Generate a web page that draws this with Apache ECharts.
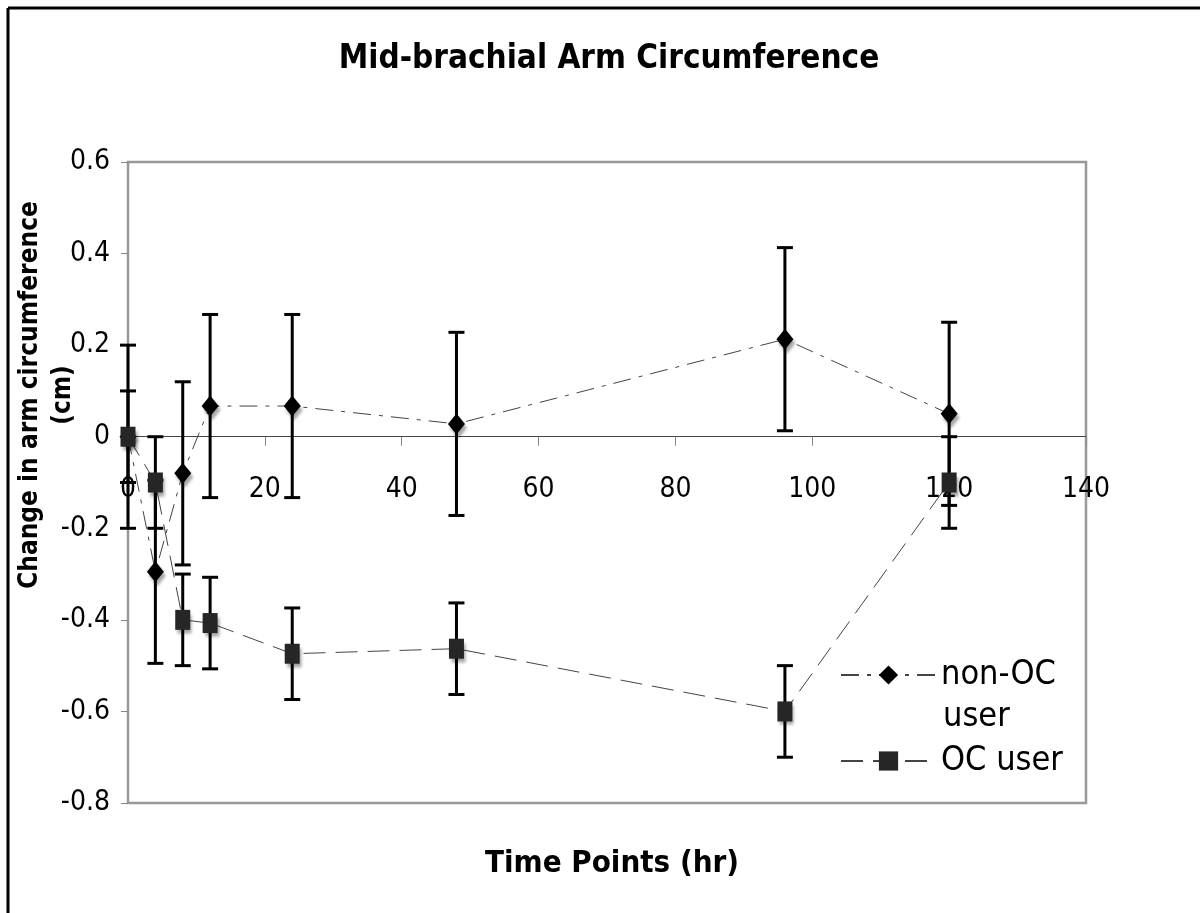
<!DOCTYPE html>
<html>
<head>
<meta charset="utf-8">
<title>Mid-brachial Arm Circumference</title>
<script src="https://cdn.jsdelivr.net/npm/echarts@6/dist/echarts.min.js"></script>
<style>
  html, body { margin: 0; padding: 0; background: #fff; }
  #chart { width: 1200px; height: 913px; }
</style>
</head>
<body>
<div id="chart"></div>
<script>
// time points (hr)
var timePoints = [0, 4, 8, 12, 24, 48, 96, 120];
// change in arm circumference (cm), mean and error
var nonOcMean = [0, -0.295, -0.08, 0.067, 0.067, 0.028, 0.213, 0.05];
var nonOcErr = [0.2, 0.2, 0.2, 0.2, 0.2, 0.2, 0.2, 0.2];
var ocMean = [0, -0.1, -0.4, -0.407, -0.474, -0.463, -0.6, -0.1];
var ocErr = [0.1, 0.1, 0.1, 0.1, 0.1, 0.1, 0.1, 0.1];
var seriesNames = ['non-OC user', 'OC user'];
// axis ranges [min, max, step]
var xRange = [0, 140, 20];
var yRange = [-0.8, 0.6, 0.2];

var FONT = "'DejaVu Sans Condensed', 'DejaVu Sans', sans-serif";

// plot box
var GRID = { left: 128, right: 114, top: 162, bottom: 110 };
var plotH = 913 - GRID.top - GRID.bottom;
// x axis sits on y = 0 (labels go with it)
var xAxisOffset = -plotH * (0 - yRange[0]) / (yRange[1] - yRange[0]);

function points(mean) {
  return timePoints.map(function (t, i) { return [t, mean[i]]; });
}
function bars(mean, err) {
  return timePoints.map(function (t, i) { return [t, mean[i] - err[i], mean[i] + err[i]]; });
}

// vertical error bar with caps
function renderErrorBar(params, api) {
  var x = api.value(0);
  var top = api.coord([x, api.value(2)]);
  var bot = api.coord([x, api.value(1)]);
  var hw = 8;
  var st = { stroke: '#000', lineWidth: 3 };
  return {
    type: 'group',
    children: [
      { type: 'line', shape: { x1: top[0], y1: top[1], x2: bot[0], y2: bot[1] }, style: st },
      { type: 'line', shape: { x1: top[0] - hw, y1: top[1], x2: top[0] + hw, y2: top[1] }, style: st },
      { type: 'line', shape: { x1: bot[0] - hw, y1: bot[1], x2: bot[0] + hw, y2: bot[1] }, style: st }
    ]
  };
}

var shadow = { shadowColor: 'rgba(0,0,0,0.35)', shadowBlur: 3, shadowOffsetX: 2, shadowOffsetY: 4 };

var chart = echarts.init(document.getElementById('chart'));
chart.setOption({
  backgroundColor: '#fff',
  animation: false,
  title: [
    {
      text: 'Mid-brachial Arm Circumference',
      left: 604,
      textAlign: 'center',
      top: 38,
      textStyle: { fontFamily: FONT, fontWeight: 'bold', fontSize: 33, color: '#000' }
    },
    {
      text: 'Time Points (hr)',
      left: 607,
      textAlign: 'center',
      top: 843,
      textStyle: { fontFamily: FONT, fontWeight: 'bold', fontSize: 31, color: '#000' }
    }
  ],
  graphic: [
    { type: 'line', shape: { x1: 8, y1: 8, x2: 1200, y2: 8 }, style: { stroke: '#000', lineWidth: 3 } },
    { type: 'line', shape: { x1: 8, y1: 8, x2: 8, y2: 913 }, style: { stroke: '#000', lineWidth: 3 } },
    {
      type: 'text',
      x: 47,
      y: 395,
      rotation: Math.PI / 2,
      style: {
        text: 'Change in arm circumference\n(cm)',
        font: 'bold 26px ' + FONT,
        fill: '#000',
        align: 'center',
        verticalAlign: 'middle',
        lineHeight: 33
      }
    },
    {
      // second line of the first legend entry
      type: 'text',
      x: 943,
      y: 717,
      style: { text: 'user', font: '34px ' + FONT, fill: '#000', verticalAlign: 'middle' }
    }
  ],
  legend: [
    {
      data: [seriesNames[0]],
      left: 840,
      top: 658,
      padding: 0,
      itemWidth: 95,
      itemHeight: 24,
      formatter: function () { return 'non-OC'; },
      textStyle: { fontFamily: FONT, fontSize: 34, color: '#000' }
    },
    {
      data: [seriesNames[1]],
      left: 840,
      top: 744,
      padding: 0,
      itemWidth: 95,
      itemHeight: 24,
      textStyle: { fontFamily: FONT, fontSize: 34, color: '#000' }
    }
  ],
  grid: {
    left: GRID.left,
    right: GRID.right,
    top: GRID.top,
    bottom: GRID.bottom,
    show: true,
    borderColor: '#999',
    borderWidth: 2.5,
    backgroundColor: '#fff'
  },
  xAxis: {
    type: 'value',
    min: xRange[0],
    max: xRange[1],
    interval: xRange[2],
    offset: xAxisOffset,
    axisLine: { onZero: false, lineStyle: { color: '#444', width: 1 } },
    axisTick: { show: true, length: 9, lineStyle: { color: '#888' } },
    axisLabel: { fontFamily: FONT, fontSize: 28, color: '#000', margin: 39 },
    splitLine: { show: false }
  },
  yAxis: {
    type: 'value',
    min: yRange[0],
    max: yRange[1],
    interval: yRange[2],
    axisLine: { show: true, onZero: false, lineStyle: { color: '#999', width: 2 } },
    axisTick: { show: true, length: 7, lineStyle: { color: '#888' } },
    axisLabel: {
      fontFamily: FONT,
      fontSize: 28,
      color: '#000',
      margin: 18,
      formatter: function (v) { return Math.abs(v) < 1e-9 ? '0' : v.toFixed(1); }
    },
    splitLine: { show: false }
  },
  series: [
    {
      name: 'non-OC error',
      type: 'custom',
      renderItem: renderErrorBar,
      encode: { x: 0, y: [1, 2] },
      data: bars(nonOcMean, nonOcErr),
      z: 2
    },
    {
      name: 'OC error',
      type: 'custom',
      renderItem: renderErrorBar,
      encode: { x: 0, y: [1, 2] },
      data: bars(ocMean, ocErr),
      z: 2
    },
    {
      name: seriesNames[0],
      type: 'line',
      data: points(nonOcMean),
      symbol: 'diamond',
      symbolSize: [17, 21],
      lineStyle: { color: '#444', width: 1, type: [18, 8, 4, 8] },
      itemStyle: Object.assign({ color: '#000' }, shadow),
      z: 3
    },
    {
      name: seriesNames[1],
      type: 'line',
      data: points(ocMean),
      symbol: 'rect',
      symbolSize: [15, 20],
      lineStyle: { color: '#444', width: 1, type: [22, 10] },
      itemStyle: Object.assign({ color: '#262626' }, shadow),
      z: 4
    }
  ]
});
</script>
</body>
</html>
